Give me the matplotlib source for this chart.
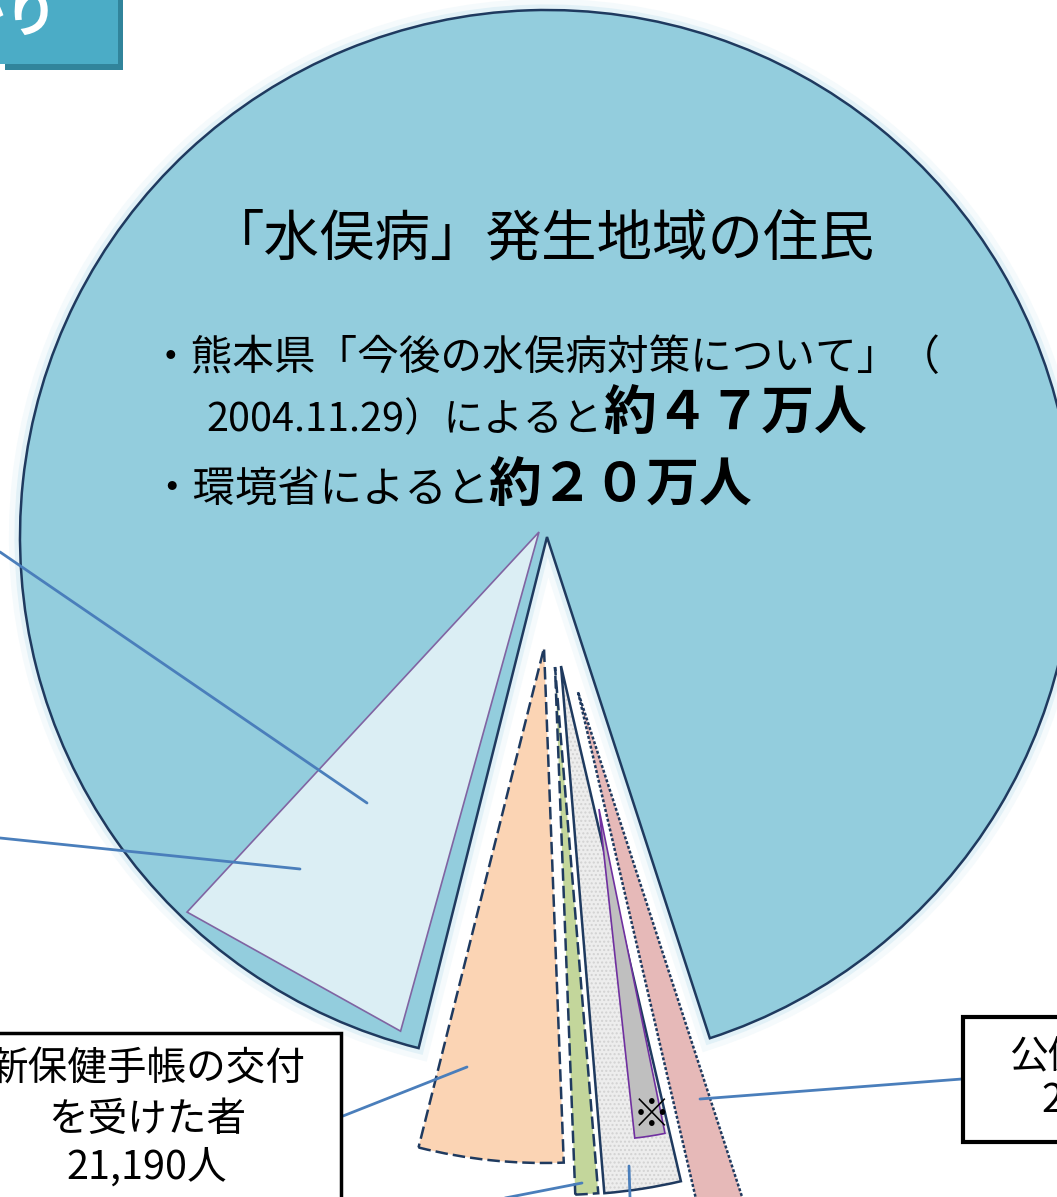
import numpy as np
import matplotlib
matplotlib.use('Agg')
import matplotlib.pyplot as plt
from matplotlib.patches import Wedge, Polygon, Rectangle
import matplotlib.patheffects as pe

plt.rcParams['font.family'] = ['Noto Sans CJK JP', 'DejaVu Sans']

W, H = 1057, 1197

# ---------------- data ----------------
# outer ring slices (angular share in degrees, counter-clockwise from start)
categories = ["「水俣病」発生地域の住民", "新保健手帳の交付を受けた者",
              "医療手帳の交付を受けた者", "救済対象者", "公健法認定患者"]
spans_deg = [327.9, 16.3, 2.5, 8.4, 4.9]
start_deg = -72.0

# sub-slices drawn inside a parent slice
sub_categories = ["健康調査等の対象者", "※"]
sub_start_deg = [227.2, 276.2]
sub_spans_deg = [27.3, 5.3]

title_text = "「水俣病」発生地域の住民"
bullet1 = "・熊本県「今後の水俣病対策について」（"
bullet2a = "2004.11.29）によると"
bullet2b = "約４７万人"
bullet3a = "・環境省によると"
bullet3b = "約２０万人"
box_left_lines = ["新保健手帳の交付", "を受けた者", "21,190人"]
box_right_lines = ["公健法認定患者", "2,273人"]
corner_text = "被害の広がり"

# ---------------- layout / styles ----------------
outer_centers_px = [(547, 537), (544, 648), (555, 667), (561, 666), (578, 692)]
outer_radii = [527, 515, 528, 529, 548]
outer_colors = ['#93CDDD', '#FBD4B4', '#C3D69B', '#EDEDED', '#E6B9B8']
edge_dark = '#1F3A5F'
outer_ls = ['-', (0, (5, 2)), (0, (5, 2)), '-', (0, (1.2, 0.8))]

sub_centers_px = [(539, 532), (599, 809)]
sub_radii = [518, 331]
sub_colors = ['#DBEEF4', '#BFBFBF']
sub_edges = ['#8064A2', '#7030A0']

lead_color = '#4A7EBB'


def P(x, y):
    return (x, H - y)


fig = plt.figure(figsize=(W / 100, H / 100), dpi=100)
ax = fig.add_axes([0, 0, 1, 1])
ax.set_xlim(0, W)
ax.set_ylim(0, H)
ax.axis('off')

# outer slices
theta = start_deg
for i, span in enumerate(spans_deg):
    t1, t2 = theta, theta + span
    theta = t2
    c = P(*outer_centers_px[i])
    if i == 0:
        w = Wedge(c, outer_radii[i], t1, t2, facecolor=outer_colors[i],
                  edgecolor=edge_dark, lw=1.8, zorder=2)
        w.set_path_effects([pe.Stroke(linewidth=16, foreground='#F5FAFC'),
                            pe.Stroke(linewidth=8, foreground='#E2F1F7'),
                            pe.Normal()])
        ax.add_patch(w)
    elif i == 3:
        ax.add_patch(Wedge(c, outer_radii[i], t1, t2, facecolor=outer_colors[i],
                           edgecolor='#D2D2D2', hatch='....', lw=0, zorder=3))
        ax.add_patch(Wedge(c, outer_radii[i], t1, t2, fill=False,
                           edgecolor=edge_dark, lw=1.8, zorder=4))
    else:
        ax.add_patch(Wedge(c, outer_radii[i], t1, t2, facecolor=outer_colors[i],
                           edgecolor=edge_dark, lw=1.8, ls=outer_ls[i], zorder=3))

# sub slice 0: triangle inside the residents slice
c0 = np.array(P(*sub_centers_px[0]))
a1 = np.radians(sub_start_deg[0])
a2 = np.radians(sub_start_deg[0] + sub_spans_deg[0])
r0 = sub_radii[0]
tri = [c0, c0 + r0 * np.array([np.cos(a1), np.sin(a1)]),
       c0 + r0 * np.array([np.cos(a2), np.sin(a2)])]
ax.add_patch(Polygon(tri, closed=True, facecolor=sub_colors[0],
                     edgecolor=sub_edges[0], lw=1.2, zorder=3))

# sub slice 1: grey wedge inside the relief slice
ax.add_patch(Wedge(P(*sub_centers_px[1]), sub_radii[1], sub_start_deg[1],
                   sub_start_deg[1] + sub_spans_deg[1], facecolor=sub_colors[1],
                   edgecolor=sub_edges[1], lw=1.2, zorder=5))
ax.text(*P(652, 1114), sub_categories[1], fontsize=27, fontweight='bold',
        ha='center', va='center', color='black', zorder=6)

# leader lines
leaders = [((0, 552), (367, 803)), ((0, 838), (300, 869)),
           ((343, 1116), (467, 1067)), ((505, 1198), (582, 1183)),
           ((630, 1198), (629, 1166)), ((962, 1079), (700, 1099))]
for (x1, y1), (x2, y2) in leaders:
    ax.plot([x1, x2], [H - y1, H - y2], color=lead_color, lw=2,
            solid_capstyle='round', zorder=7)

# texts in residents slice
ax.text(*P(542, 240), title_text, fontsize=40, ha='center', va='center',
        color='black', zorder=8)
ax.text(*P(150, 358), bullet1, fontsize=30, ha='left', va='center',
        color='black', zorder=8)
ax.text(*P(603, 420), bullet2a, fontsize=28.5, ha='right', va='center',
        color='black', zorder=8)
ax.text(*P(603, 414), bullet2b, fontsize=38, fontweight='bold', ha='left',
        va='center', color='black', zorder=8)
ax.text(*P(150, 490), bullet3a, fontsize=30.5, ha='left', va='center',
        color='black', zorder=8)
ax.text(*P(488, 486), bullet3b, fontsize=38, fontweight='bold', ha='left',
        va='center', color='black', zorder=8)

# left label box
ax.add_patch(Rectangle(P(-10, 1250), 351, 217, facecolor='white',
                       edgecolor='black', lw=2.5, zorder=9))
for k, (line, y) in enumerate(zip(box_left_lines, [1070, 1120, 1168])):
    ax.text(*P(147, y), line, fontsize=28.5, ha='center', va='center',
            color='black', zorder=10)

# right label box
ax.add_patch(Rectangle(P(963, 1142), 120, 125, facecolor='white',
                       edgecolor='black', lw=3, zorder=9))
ax.text(*P(1009, 1057), box_right_lines[0], fontsize=28, ha='left',
        va='center', color='black', zorder=10)
ax.text(*P(1041, 1101), box_right_lines[1], fontsize=28, ha='left',
        va='center', color='black', zorder=10)

# corner title box
ax.add_patch(Rectangle(P(5, 70), 118, 70, facecolor='#31849B', lw=0, zorder=9))
ax.add_patch(Rectangle(P(-5, 64), 123, 70, facecolor='#4BACC6', lw=0, zorder=10))
ax.text(*P(58, 16), corner_text, fontsize=38, fontweight='bold', ha='right',
        va='center', color='white', zorder=11)

fig.savefig('out.png', dpi=100, facecolor='white')
